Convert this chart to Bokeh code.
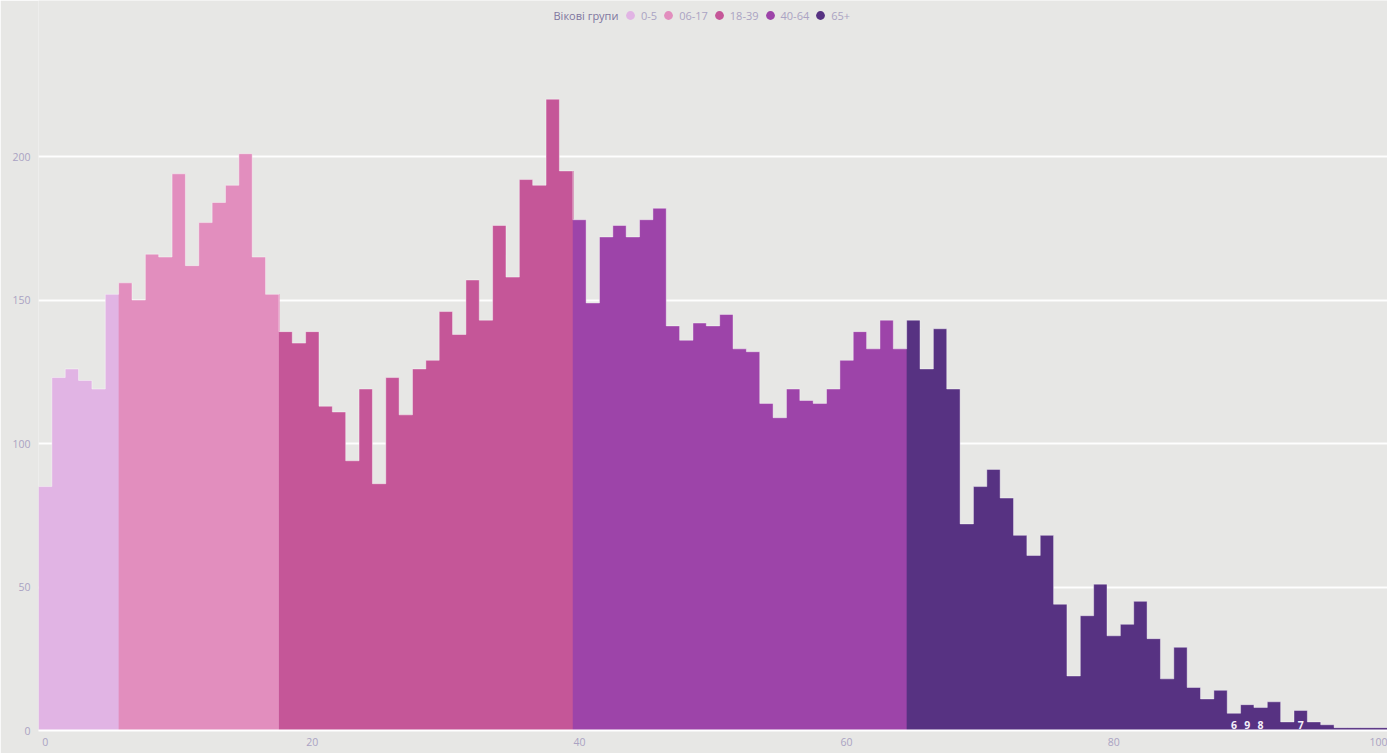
from bokeh.plotting import figure
from bokeh.models import ColumnDataSource, Legend, LegendItem, Label, FixedTicker, Range1d
from bokeh.core.properties import value
from bokeh.embed import file_html
from bokeh.resources import INLINE

# ---------------- data ----------------
group_names = ["0-5", "06-17", "18-39", "40-64", "65+"]
group_colors = ["#e1b4e4", "#e28ebe", "#c55698", "#9d44a9", "#573282"]
group_first_age = [0, 6, 18, 40, 65]

counts_0_5 = [85, 123, 126, 122, 119, 152]
counts_6_17 = [156, 150, 166, 165, 194, 162, 177, 184, 190, 201, 165, 152]
counts_18_39 = [139, 135, 139, 113, 111, 94, 119, 86, 123, 110, 126, 129, 146,
                138, 157, 143, 176, 158, 192, 190, 220, 195]
counts_40_64 = [178, 149, 172, 176, 172, 178, 182, 141, 136, 142, 141, 145, 133,
                132, 114, 109, 119, 115, 114, 119, 129, 139, 133, 143, 133]
counts_65_plus = [143, 126, 140, 119, 72, 85, 91, 81, 68, 61, 68, 44, 19, 40, 51,
                  33, 37, 45, 32, 18, 29, 15, 11, 14, 6, 9, 8, 10, 3, 7, 3, 2,
                  1, 1, 1, 1]
group_counts = [counts_0_5, counts_6_17, counts_18_39, counts_40_64, counts_65_plus]

labeled_ages = [89, 90, 91, 94]
x_ticks = [0, 20, 40, 60, 80, 100]
y_ticks = [0, 50, 100, 150, 200]
legend_title = "Вікові групи"

# ---------------- style ----------------
BG = "#e7e7e5"
FONT = "Open Sans"
TICK_COLOR = "#aaa3c3"
TITLE_COLOR = "#7f769f"
SEAM_OVERLAP = 0.06   # small overlap so adjacent group areas show no anti-alias seam

all_ages = []
all_counts = []
for start, cnts in zip(group_first_age, group_counts):
    all_ages += list(range(start, start + len(cnts)))
    all_counts += cnts

p = figure(frame_width=1349, frame_height=730,
           x_range=Range1d(-0.5, 100.5), y_range=Range1d(0, 254.4),
           output_backend="svg", toolbar_location=None,
           min_border_left=38, min_border_right=0, min_border_top=0, min_border_bottom=23,
           background_fill_color=BG, border_fill_color=BG, outline_line_color=None)

# histogram bars per age group (one step-shaped area per group: no seams between bars)
legend_items = []
last_group = len(group_names) - 1
for gi, (name, color, start, cnts) in enumerate(zip(group_names, group_colors,
                                                    group_first_age, group_counts)):
    ages = list(range(start, start + len(cnts)))
    right = ages[-1] + 0.5 + (SEAM_OVERLAP if gi < last_group else 0)
    edges = [a - 0.5 for a in ages] + [right]
    src = ColumnDataSource(dict(x=edges, top=cnts + [cnts[-1]]))
    p.varea_step(x="x", y1=0, y2="top", step_mode="after", source=src,
                 fill_color=color, fill_alpha=1)
    dot = p.scatter(x=ages[:1], y=[0], size=0, marker="circle",
                    fill_color=color, line_color=None)
    legend_items.append(LegendItem(label=name, renderers=[dot]))

# faint light outline along the top of the histogram
all_edges = [a - 0.5 for a in all_ages] + [all_ages[-1] + 0.5]
p.step(x=all_edges, y=all_counts + [all_counts[-1]], mode="after",
       line_color="white", line_alpha=0.4, line_width=1)

# small value labels
lab_src = ColumnDataSource(dict(age=labeled_ages,
                                txt=[str(all_counts[all_ages.index(a)]) for a in labeled_ages]))
p.text(x="age", y=0, text="txt", source=lab_src, text_color="#f4f0fa",
       text_font=value(FONT), text_font_size="10.5px", text_font_style="bold",
       text_align="center", text_baseline="bottom", y_offset=-2)

# axes
p.xaxis.ticker = FixedTicker(ticks=x_ticks)
p.yaxis.ticker = FixedTicker(ticks=y_ticks)
for ax in (p.xaxis, p.yaxis):
    ax.major_tick_line_color = None
    ax.minor_tick_line_color = None
    ax.major_tick_out = 0
    ax.major_tick_in = 0
    ax.major_label_text_color = TICK_COLOR
    ax.major_label_text_font = FONT
    ax.major_label_text_font_size = "10.5px"
p.yaxis.axis_line_color = None
p.yaxis.major_label_standoff = 8
p.xaxis.axis_line_color = "white"
p.xaxis.axis_line_width = 2
p.xaxis.major_label_standoff = 7

p.xgrid.grid_line_color = None
p.ygrid.grid_line_color = "white"
p.ygrid.grid_line_width = 2
p.ygrid.grid_line_alpha = 0.95

# legend (horizontal, top)
legend = Legend(items=legend_items, orientation="horizontal", location=(581, 704),
                glyph_width=22, glyph_height=22, label_standoff=0, spacing=0,
                padding=0, margin=0, border_line_color=None, background_fill_alpha=0,
                label_text_font=FONT, label_text_font_size="11px",
                label_text_color=TICK_COLOR, label_width=10, label_height=22)
p.add_layout(legend)

p.add_layout(Label(x=515, y=715, x_units="screen", y_units="screen", text=legend_title,
                   text_font=FONT, text_font_size="11px", text_color=TITLE_COLOR,
                   text_align="left", text_baseline="middle"))

open("out.html", "w").write(file_html(p, INLINE))
